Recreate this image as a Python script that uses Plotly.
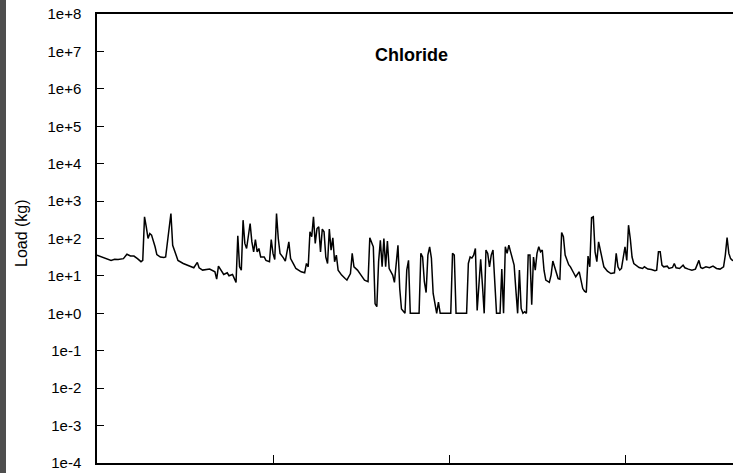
import plotly.graph_objects as go

# Day index and chloride load (kg)
days = [0, 4, 8, 10, 12, 15, 17, 19, 21, 23, 25, 26, 27, 28, 29, 30, 31, 33, 34, 36, 38, 39, 41, 42, 43, 45, 46, 49, 53, 55, 57, 58, 60, 62,
        64, 67, 68, 69, 71, 72, 74, 75, 77, 78, 79, 80, 81, 82, 83, 84, 85, 87, 88, 89, 90, 91, 92, 93, 95, 96, 98, 99, 100, 101, 102, 103,
        104, 106, 107, 109, 110, 112, 113, 116, 118, 119, 120, 121, 122, 123,
        124, 125, 126, 127, 128, 129, 130, 131, 132, 133, 134, 135, 136, 137, 139, 141, 142, 144, 145, 146, 148, 150, 152, 154, 155, 157,
        158, 159, 160, 161, 162, 163, 164, 165, 166, 168, 169, 171, 172, 173, 175, 176, 177, 178, 183, 184,
        185, 186, 187, 188, 189, 190, 191, 193, 194, 195, 201, 202, 203, 204, 210, 211, 212, 213, 214, 215, 216, 217, 218, 219, 220, 221,
        222, 223, 224, 225, 226, 227, 229, 230, 231, 232, 233, 234, 235, 237, 238, 239, 240, 241, 242, 243, 244, 245,
        246, 247, 248, 249, 250, 251, 252, 253, 254, 255, 257, 258, 259, 260, 261, 262, 263, 264, 265, 266, 268, 269, 271, 272, 274, 275,
        276, 277, 278, 279, 280, 281, 282, 283, 284, 285, 287, 288, 290, 292, 294, 295, 296, 297, 298, 299, 300, 301, 302, 303, 304, 305, 307,
        308, 310, 311, 313, 315, 317, 318, 319, 320, 321, 322, 324, 325, 327, 328, 329, 330, 331, 333, 334, 336, 338, 340, 342, 343, 344,
        346, 348, 350, 352, 354, 356, 357, 358, 359, 360, 361, 363]
load_kg = [36, 30, 26, 28, 27.5, 29, 38, 34, 34, 29, 24, 26, 379, 205, 100, 136, 123, 60, 37, 32, 31, 32, 167, 466, 66, 32, 26, 21.5, 17.5, 16.5, 23, 16.5, 14.3, 14.9,
           15.2, 12.9, 8.2, 18.2, 13.4, 10.9, 12.1, 10.1, 10.9, 8.2, 6.7, 118, 17.5, 14.3, 309, 74, 54, 252, 81, 44, 94, 44, 54, 32, 32, 26, 24, 94, 40, 27.5, 466, 100,
           40, 30, 25, 81, 29, 19.4, 15.8, 12.9, 12.1, 21.5, 17.5, 151, 111, 379,
           74, 185, 205, 44, 178, 151, 32, 21.5, 178, 49, 104, 24, 36, 14.3, 10.5, 8.5, 7.7, 11.6, 40, 17.5, 14.3, 10.5, 7.7, 7.0, 104, 60,
           1.8, 1.5, 24, 90, 17.5, 100, 17.5, 85, 15.8, 10.5, 6.7, 66, 4.6, 1.3, 1.0, 14.3, 26, 1.0, 1.0, 40,
           32, 7.0, 3.6, 36, 60, 30, 3.4, 1.0, 2.0, 1.0, 1.0, 40, 36, 1.0, 1.0, 21.5, 32, 30, 36, 54, 1.2, 5.7, 28, 5.7, 1.0, 49,
           40, 17.5, 36, 49, 4.2, 1.0, 1.0, 15.2, 1.0, 60, 40, 66, 44, 19.4, 4.2, 1.0, 14.3, 1.35, 1.0, 1.1, 1.0, 36,
           36, 1.7, 32, 14.3, 40, 60, 44, 49, 14, 7.7, 6.7, 10.5, 25, 17.5, 10.5, 8.5, 8.2, 145, 111, 36, 20, 17.5, 11.6, 9.5, 12.9, 8.2,
           4.6, 3.9, 3.6, 34, 17.5, 357, 379, 44, 24, 81, 29, 17.5, 13.4, 11.6, 12.1, 40, 17.5, 14.3, 15.8, 32, 60, 26, 227, 100, 32, 21.5, 17.5,
           16.8, 15.8, 17.5, 15.2, 14.9, 13.7, 14.3, 44, 44, 19.4, 17.5, 18.2, 15.8, 16.8, 21.5, 16.5, 15.8, 15.8, 19.4, 16.5, 15.2, 14.3, 15.2, 26, 16.8, 15.8,
           17.5, 16.5, 18.2, 15.8, 15.2, 17.5, 36, 106, 40, 29, 26, 25]

y_exponents = list(range(-4, 9))
y_tick_vals = [10.0 ** k for k in y_exponents]
y_tick_text = ["1e+%d" % k if k >= 0 else "1e%d" % k for k in y_exponents]
x_ticks = [0, 100, 200, 300]

FONT = "Liberation Sans, Arial, sans-serif"
W, H = 733, 473
ML, MT, MB, MR = 97, 14, 10, 0
PW, PH = W - ML - MR, H - MT - MB

fig = go.Figure()
fig.add_trace(go.Scatter(x=days, y=load_kg, mode="lines",
                         line=dict(color="black", width=1.5), showlegend=False,
                         hoverinfo="skip"))

fig.update_layout(
    width=W, height=H,
    margin=dict(l=ML, r=MR, t=MT, b=MB, pad=0),
    paper_bgcolor="white", plot_bgcolor="white",
    font=dict(family=FONT, color="black", size=15),
    xaxis=dict(range=[0, PW / 1.76], tickvals=x_ticks, showticklabels=False,
               ticks="inside", ticklen=8, tickwidth=1, tickcolor="black",
               showline=True, linecolor="black", linewidth=1.5, mirror=True,
               showgrid=False, zeroline=False),
    yaxis=dict(type="log", range=[-4, 8], tickvals=y_tick_vals, ticktext=y_tick_text,
               ticks="inside", ticklen=7, tickwidth=1, tickcolor="black",
               ticklabelstandoff=11,
               showline=True, linecolor="black", linewidth=1.5,
               showgrid=False, zeroline=False,
               tickfont=dict(family=FONT, size=15, color="black")),
)

# Dark strip at the far left edge
fig.add_shape(type="rect", xref="paper", yref="paper",
              x0=-ML / PW, x1=(-ML + 6) / PW, y0=-MB / PH, y1=1 + MT / PH,
              fillcolor="#4e4e4e", line=dict(width=0), layer="above")

fig.add_annotation(text="<b>Chloride</b>", xref="paper", yref="paper",
                   x=(411 - ML) / PW, y=(H - MB - 55) / PH, showarrow=False,
                   xanchor="center", yanchor="middle",
                   font=dict(family=FONT, size=18, color="black"))
fig.add_annotation(text="Load (kg)", xref="paper", yref="paper",
                   x=(21 - ML) / PW, y=(H - MB - 233) / PH, showarrow=False,
                   textangle=-90, xanchor="center", yanchor="middle",
                   font=dict(family=FONT, size=16, color="black"))

fig.write_html("out.html")
